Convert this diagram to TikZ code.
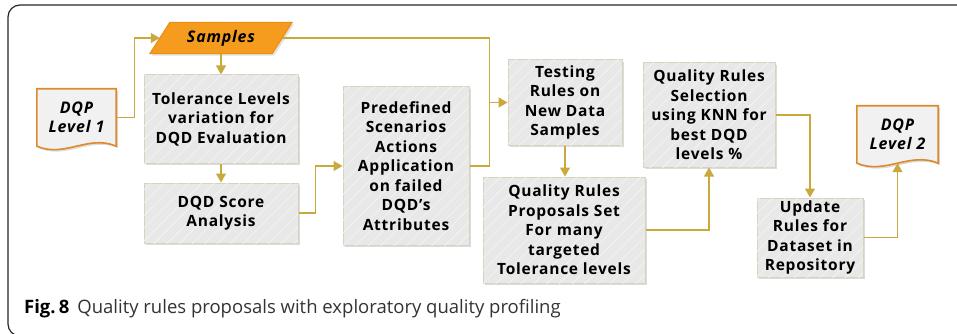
\documentclass[tikz,border=0pt]{standalone}
\usepackage{fontspec}
\setmainfont{Open Sans}
\newfontfamily\boxfont[LetterSpace=5]{Open Sans}
\usetikzlibrary{arrows.meta,shadows,patterns.meta,calc}
\pgfdeclarelayer{bg}
\pgfsetlayers{bg,main}
\definecolor{conn}{HTML}{C9A83E}
\definecolor{boxfill}{HTML}{E8E8E8}
\definecolor{boxborder}{HTML}{D8D3BE}
\definecolor{docborder}{HTML}{DE8A2C}
\definecolor{docfill}{HTML}{F1F1F1}
\definecolor{sampfill}{HTML}{F59C1F}
\definecolor{sampborder}{HTML}{E89014}
\tikzset{
  procbox/.style={draw=boxborder, line width=1pt, fill=boxfill,
    drop shadow={shadow xshift=2pt, shadow yshift=-2pt, opacity=0.3, fill=black!45},
    postaction={pattern={Lines[angle=45,distance=9pt,line width=0.6pt]}, pattern color=white!55!boxfill},
    align=center, inner sep=0pt,
    font=\boxfont\bfseries\fontsize{15.5}{19.5}\selectfont},
  doctext/.style={inner sep=0pt, align=center,
    font=\boxfont\bfseries\itshape\fontsize{16}{19}\selectfont},
  docshape/.style={draw=docborder, line width=1.6pt, fill=docfill,
    drop shadow={shadow xshift=2pt, shadow yshift=-2pt, opacity=0.3, fill=black!45}},
  conn/.style={draw=conn, line width=1.3pt},
  connarrow/.style={conn, -{Triangle[length=9pt,width=10pt]}},
}
\begin{document}
\begin{tikzpicture}[x=1pt,y=-1pt]
\useasboundingbox (0,0) rectangle (957,334);
\begin{scope}
  \clip (0,0) rectangle (957,334);
  \draw[line width=1.2pt, draw=black!85, rounded corners=12pt] (8,5) rectangle (980,336);
\end{scope}

% nodes
\node[doctext, minimum width=79pt, minimum height=57pt] (doc1) at (76.5,117.5) {DQP\\Level 1};
\node[doctext, minimum width=122pt, minimum height=31pt] (samples) at (221,38) {Samples};
\node[procbox, minimum width=154pt, minimum height=88pt] (tol) at (221,119) {Tolerance Levels\\variation for\\DQD Evaluation};
\node[procbox, minimum width=154pt, minimum height=60pt] (score) at (221,213) {DQD Score\\Analysis};
\node[procbox, minimum width=126pt, minimum height=158pt] (pre) at (406,166) {Predefined\\Scenarios\\Actions\\Application\\on failed\\DQD’s\\Attributes};
\node[procbox, minimum width=114pt, minimum height=85pt] (test) at (565,102.5) {Testing\\Rules on\\New Data\\Samples};
\node[procbox, minimum width=162pt, minimum height=106pt] (prop) at (564,230) {Quality Rules\\Proposals Set\\For many\\targeted\\Tolerance levels};
\node[procbox, minimum width=132pt, minimum height=104pt] (sel) at (709,115) {Quality Rules\\Selection\\using KNN for\\best DQD\\levels \%};
\node[procbox, minimum width=106pt, minimum height=79pt] (upd) at (810,237.5) {Update\\Rules for\\Dataset in\\Repository};
\node[doctext, minimum width=81pt, minimum height=57pt] (doc2) at (897.5,134.5) {DQP\\Level 2};

% background shapes
\begin{pgfonlayer}{bg}
  \draw[docshape] (doc1.south east) -- (doc1.north east) -- (doc1.north west) -- (doc1.south west)
    .. controls ($(doc1.south west)+(27.6,12)$) and ($(doc1.south east)+(-27.6,-12)$) .. (doc1.south east) -- cycle;
  \draw[docshape] (doc2.south east) -- (doc2.north east) -- (doc2.north west) -- (doc2.south west)
    .. controls ($(doc2.south west)+(28.3,12)$) and ($(doc2.south east)+(-28.3,-12)$) .. (doc2.south east) -- cycle;
  \draw[draw=sampborder, line width=1pt, fill=sampfill,
    drop shadow={shadow xshift=2pt, shadow yshift=-2pt, opacity=0.25, fill=black!45}]
    ([xshift=10pt]samples.north west) -- ([xshift=10pt]samples.north east)
    -- ([xshift=-10pt]samples.south east) -- ([xshift=-10pt]samples.south west) -- cycle;
\end{pgfonlayer}

% connectors
\draw[connarrow] (doc1.east) -- ++(18,0) |- (samples.west);
\draw[connarrow] (samples.south) -- (tol.north);
\draw[connarrow] (samples.east) -| ([xshift=-18pt]test.west) -- (test.west);
\draw[connarrow] (tol.south) -- (score.north);
\draw[connarrow] (score.east) -- ++(17,0) |- (pre.west);
\draw[conn] (pre.east) -| ([xshift=-18pt]test.west);
\draw[connarrow] (test.south) -- (test.south |- prop.north);
\draw[connarrow] (prop.east) -| (sel.south);
\draw[connarrow] (sel.east) -| (upd.north);
\draw[connarrow] (upd.east) -| (doc2.south);

% caption
\node[anchor=base west, inner sep=0pt, font=\fontsize{18.5}{22}\selectfont] (cap) at (24,313)
  {\textbf{Fig.\,8}\hspace{8pt}{\color{black!80}Quality rules proposals with exploratory quality profiling}};
\end{tikzpicture}
\end{document}
